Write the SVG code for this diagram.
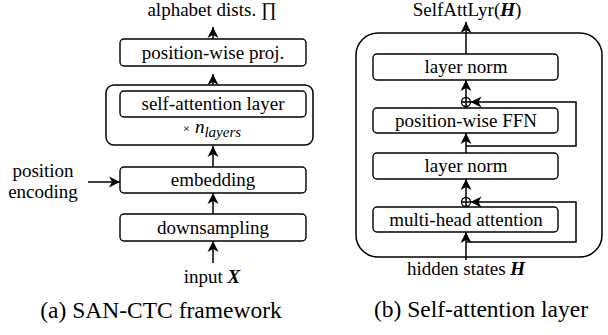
<svg xmlns="http://www.w3.org/2000/svg" width="608" height="335" viewBox="0 0 608 335">
<defs>
<marker id="ah" viewBox="-11 -6 12 12" markerWidth="12" markerHeight="12" refX="0" refY="0" orient="auto" markerUnits="userSpaceOnUse">
<path d="M0,0 L-11,-5.5 L-8,0 L-11,5.5 z" fill="#000"/>
</marker>
<style>
.box{fill:#fff;stroke:#000;stroke-width:1.4}
.outer{fill:none;stroke:#000;stroke-width:1.5}
.t{font-family:'Liberation Serif',serif;font-size:19px;fill:#000;text-anchor:middle}
.cap{font-family:'Liberation Serif',serif;font-size:23.5px;fill:#000;text-anchor:middle}
.ln{fill:none;stroke:#000;stroke-width:1.5}
.arr{fill:none;stroke:#000;stroke-width:1.5;marker-end:url(#ah)}
</style>
</defs>
<rect width="608" height="335" fill="#fff"/>

<!-- Left: SAN-CTC framework -->
<g id="out-a"><text class="t" font-family="Liberation Serif" x="212" y="16">alphabet dists. ∏</text></g>
<g id="proj"><rect class="box" x="120" y="39" width="186" height="27" rx="4"/><text class="t" font-family="Liberation Serif" x="213" y="59">position-wise proj.</text></g>
<g id="sa-group"><rect class="outer" x="106" y="85" width="207" height="60" rx="8"/>
<text class="t" font-family="Liberation Serif" x="212" y="133"><tspan font-size="13">×</tspan><tspan font-style="italic"> n</tspan><tspan font-style="italic" font-size="15" dy="4">layers</tspan></text></g>
<g id="sa"><rect class="box" x="120" y="91" width="186" height="26" rx="4"/><text class="t" font-family="Liberation Serif" x="213" y="110">self-attention layer</text></g>
<g id="emb"><rect class="box" x="120" y="167" width="186" height="26" rx="4"/><text class="t" font-family="Liberation Serif" x="213" y="186">embedding</text></g>
<g id="down"><rect class="box" x="120" y="214" width="186" height="27" rx="4"/><text class="t" font-family="Liberation Serif" x="213" y="234">downsampling</text></g>
<g id="in-a"><text class="t" font-family="Liberation Serif" x="212" y="283">input <tspan font-weight="bold" font-style="italic">X</tspan></text></g>
<g id="pos"><text class="t" font-family="Liberation Serif" x="43" y="177">position</text><text class="t" font-family="Liberation Serif" x="43" y="198">encoding</text></g>
<g id="cap-a"><text class="cap" font-family="Liberation Serif" x="161" y="318">(a) SAN-CTC framework</text></g>

<!-- Right: Self-attention layer -->
<g id="out-b"><text class="t" font-family="Liberation Serif" x="467" y="16">SelfAttLyr(<tspan font-weight="bold" font-style="italic">H</tspan>)</text></g>
<g id="sal-outer"><rect class="outer" x="356" y="33" width="246" height="224" rx="22"/></g>
<g id="ln2"><rect class="box" x="373" y="54" width="185" height="26" rx="4"/><text class="t" font-family="Liberation Serif" x="466" y="73">layer norm</text></g>
<g id="ffn"><rect class="box" x="373" y="108" width="185" height="25" rx="4"/><text class="t" font-family="Liberation Serif" x="466" y="127">position-wise FFN</text></g>
<g id="ln1"><rect class="box" x="373" y="153" width="185" height="26" rx="4"/><text class="t" font-family="Liberation Serif" x="466" y="172">layer norm</text></g>
<g id="mha"><rect class="box" x="373" y="207" width="185" height="25" rx="4"/><text class="t" font-family="Liberation Serif" x="466" y="226">multi-head attention</text></g>
<g id="add2"><circle cx="466" cy="102" r="4.5" fill="#fff" stroke="#000" stroke-width="1.3"/><path class="ln" d="M461.5,102 H470.5 M466,97.5 V106.5" stroke-width="1.2"/></g>
<g id="add1"><circle cx="466" cy="202" r="4.5" fill="#fff" stroke="#000" stroke-width="1.3"/><path class="ln" d="M461.5,202 H470.5 M466,197.5 V206.5" stroke-width="1.2"/></g>
<g id="in-b"><text class="t" font-family="Liberation Serif" x="466" y="275">hidden states <tspan font-weight="bold" font-style="italic">H</tspan></text></g>
<g id="cap-b"><text class="cap" font-family="Liberation Serif" x="481" y="317">(b) Self-attention layer</text></g>

<g id="connectors">
<path class="arr" d="M213,39 V27"/>
<path class="arr" d="M213,85 V74"/>
<path class="arr" d="M213,167 V146"/>
<path class="arr" d="M213,214 V193"/>
<path class="arr" d="M213,263 V241"/>
<path class="arr" d="M88,182 H120"/>
<path class="arr" d="M466,54 V22"/>
<path class="arr" d="M466,97.5 V80"/>
<path class="ln" d="M466,108 V106.5"/>
<path class="arr" d="M466,153 V133"/>
<path class="arr" d="M466,146 H576 V102 H470.5"/>
<path class="arr" d="M466,197.5 V179"/>
<path class="ln" d="M466,207 V206.5"/>
<path class="arr" d="M466,260 V232"/>
<path class="arr" d="M466,242 H576 V202 H470.5"/>
</g>
</svg>
